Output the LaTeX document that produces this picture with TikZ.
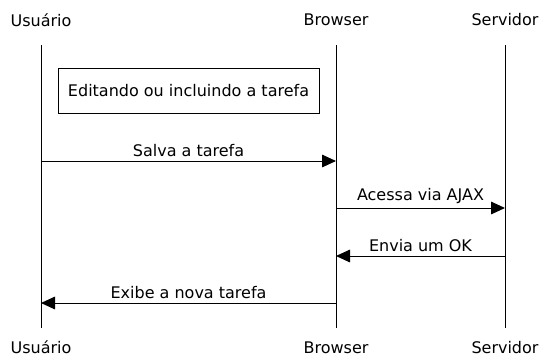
\documentclass[tikz,border=0pt]{standalone}
\usepackage{fontspec}
\setmainfont{DejaVu Sans}
\usepackage{tikz}
\usetikzlibrary{arrows.meta,positioning}

\begin{document}
\begin{tikzpicture}[x=0.75pt, y=-0.75pt, line width=0.75pt,
    font=\fontsize{12}{14}\selectfont,
    >={Triangle[length=10.5pt,width=9.5pt]},
    actor/.style={inner sep=0pt},
    msg/.style={midway, above, inner sep=3pt}]
    \useasboundingbox (0,0) rectangle (542,357);
    % participants, top and bottom
    \node [actor] (usr) at (41,20) {Usuário};
    \node [actor] (brw) at (336,20) {Browser};
    \node [actor] (srv) at (505,20) {Servidor};
    \node [actor] (usrbot) at (41,347.5) {Usuário};
    \node [actor] (brwbot) at (336,347.5) {Browser};
    \node [actor] (srvbot) at (505,347.5) {Servidor};

    % lifelines
    \coordinate (usra) at (41,45);
    \coordinate (usrz) at (41,328);
    \coordinate (brwa) at (336,45);
    \coordinate (brwz) at (336,328);
    \coordinate (srva) at (505,45);
    \coordinate (srvz) at (505,328);
    \draw (usra) -- (usrz);
    \draw (brwa) -- (brwz);
    \draw (srva) -- (srvz);

    \node [rectangle, draw, minimum width=195.75pt, minimum height=33.75pt] (edit) at (188.5,90.5) {Editando ou incluindo a tarefa};

    % messages
    \coordinate (salva1) at (41,161);
    \coordinate (salva2) at (336,161);
    \coordinate (ajax1) at (336,208);
    \coordinate (ajax2) at (505,208);
    \coordinate (ok1) at (505,256);
    \coordinate (ok2) at (336,256);
    \coordinate (exibe1) at (336,303);
    \coordinate (exibe2) at (41,303);
    \draw [->] (salva1) -- (salva2) node [msg] {Salva a tarefa};
    \draw [->] (ajax1) -- (ajax2) node [msg] {Acessa via AJAX};
    \draw [->] (ok1) -- (ok2) node [msg] {Envia um OK};
    \draw [->] (exibe1) -- (exibe2) node [msg] {Exibe a nova tarefa};
\end{tikzpicture}
\end{document}
